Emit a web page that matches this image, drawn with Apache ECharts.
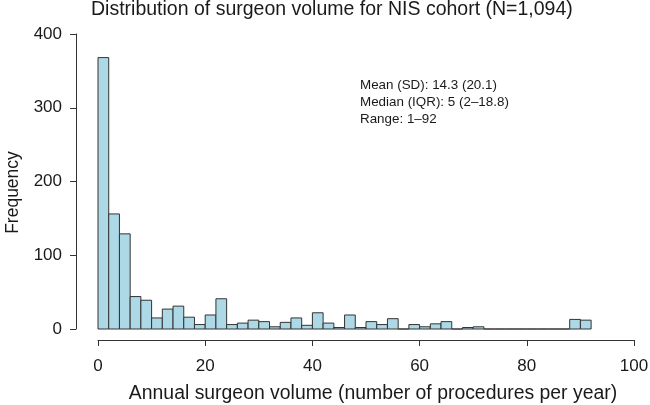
<!DOCTYPE html>
<html>
<head>
<meta charset="utf-8">
<script src="https://cdn.jsdelivr.net/npm/echarts@6/dist/echarts.min.js"></script>
<style>html,body{margin:0;padding:0;background:#fff;}#c{width:650px;height:405px;}</style>
</head>
<body>
<div id="c"></div>
<script>
// Histogram bins (width 2) and frequencies
const binStart = [0,2,4,6,8,10,12,14,16,18,20,22,24,26,28,30,32,34,36,38,40,42,44,46,48,50,52,54,56,58,60,62,64,66,68,70,72,74,76,78,80,82,84,86,88,90];
const binEnd   = [2,4,6,8,10,12,14,16,18,20,22,24,26,28,30,32,34,36,38,40,42,44,46,48,50,52,54,56,58,60,62,64,66,68,70,72,74,76,78,80,82,84,86,88,90,92];
const frequency = [368,156,129,44,39,15,27,31,16,6,19,41,6,8,12,10,3,9,15,5,22,8,2,19,2,10,6,14,0,6,3,7,10,0,2,3,0,0,0,0,0,0,0,0,13,12];
const xTicks = [0,20,40,60,80,100];
const yTicks = [0,100,200,300,400];
const statLines = ['Mean (SD): 14.3 (20.1)', 'Median (IQR): 5 (2\u201318.8)', 'Range: 1\u201392'];
const titleText = 'Distribution of surgeon volume for NIS cohort (N=1,094)';

const FONT = '"Liberation Sans", Arial, Helvetica, sans-serif';
const TXT = '#1a1a1a';
const LINE = '#333';

const data = binStart.map((s, i) => [s, binEnd[i], frequency[i]]);

const chart = echarts.init(document.getElementById('c'), null, {renderer: 'canvas'});
chart.setOption({
  animation: false,
  backgroundColor: '#fff',
  textStyle: {fontFamily: FONT},
  title: {
    text: titleText,
    left: 91,
    top: 0,
    padding: 0,
    textStyle: {fontFamily: FONT, fontSize: 19.5, fontWeight: 'normal', color: TXT}
  },
  grid: {left: 98, right: 16, top: 34, bottom: 76, containLabel: false, outerBoundsMode: 'none'},
  xAxis: {
    type: 'value',
    min: xTicks[0], max: xTicks[xTicks.length - 1], interval: 20,
    offset: 11,
    name: 'Annual surgeon volume (number of procedures per year)',
    nameLocation: 'middle',
    nameGap: 44,
    nameTextStyle: {fontFamily: FONT, fontSize: 19.4, color: TXT, padding: [0, 0, 0, 14]},
    axisLine: {show: true, onZero: false, lineStyle: {color: LINE, width: 1}},
    axisTick: {show: true, length: 6, lineStyle: {color: LINE}},
    axisLabel: {margin: 18, fontFamily: FONT, fontSize: 17, color: TXT},
    splitLine: {show: false}
  },
  yAxis: {
    type: 'value',
    min: yTicks[0], max: yTicks[yTicks.length - 1], interval: 100,
    offset: 22,
    name: 'Frequency',
    nameLocation: 'middle',
    nameGap: 54,
    nameRotate: 90,
    nameTextStyle: {fontFamily: FONT, fontSize: 17.5, color: TXT, padding: [0, 22, 0, 0]},
    axisLine: {show: true, onZero: false, lineStyle: {color: LINE, width: 1}},
    axisTick: {show: true, length: 6, lineStyle: {color: LINE}},
    axisLabel: {margin: 14, fontFamily: FONT, fontSize: 17, color: TXT},
    splitLine: {show: false}
  },
  graphic: statLines.map((t, i) => ({
    type: 'text',
    left: 360,
    top: 79 + i * 16.7,
    style: {text: t, font: '13.4px ' + FONT, fill: TXT}
  })),
  series: [{
    type: 'custom',
    data: data,
    encode: {x: [0, 1], y: 2},
    renderItem: function (params, api) {
      const p0 = api.coord([api.value(0), api.value(2)]);
      const p1 = api.coord([api.value(1), 0]);
      return {
        type: 'rect',
        shape: {x: p0[0], y: p0[1], width: p1[0] - p0[0], height: p1[1] - p0[1]},
        style: {fill: '#add8e6', stroke: '#333', lineWidth: 1}
      };
    }
  }]
});
</script>
</body>
</html>
